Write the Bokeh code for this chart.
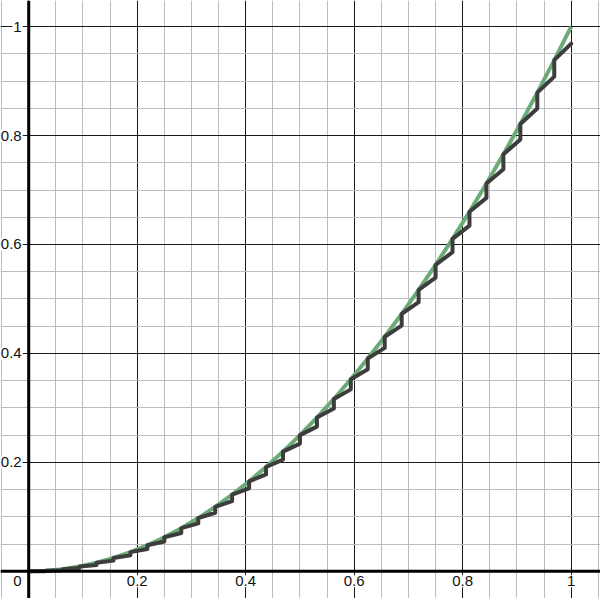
from bokeh.plotting import figure
from bokeh.models import Range1d, FixedTicker, Span
from bokeh.core.properties import value
from bokeh.embed import file_html
from bokeh.resources import INLINE

# ---- data ----
# staircase break points (x) and the curve value there
step_x = [0.0, 0.03125, 0.0625, 0.09375, 0.125, 0.15625, 0.1875, 0.21875, 0.25,
          0.28125, 0.3125, 0.34375, 0.375, 0.40625, 0.4375, 0.46875, 0.5,
          0.53125, 0.5625, 0.59375, 0.625, 0.65625, 0.6875, 0.71875, 0.75,
          0.78125, 0.8125, 0.84375, 0.875, 0.90625, 0.9375, 0.96875, 1.0]
# value of the staircase just before each jump
step_low = [0.0, 0.0, 0.00195, 0.00586, 0.01172, 0.01953, 0.0293, 0.04102, 0.05469,
            0.07031, 0.08789, 0.10742, 0.12891, 0.15234, 0.17773, 0.20508, 0.23438,
            0.26563, 0.29883, 0.33398, 0.37109, 0.41016, 0.45117, 0.49414, 0.53906,
            0.58594, 0.63477, 0.68555, 0.73828, 0.79297, 0.84961, 0.9082, 0.96875]
# value of the staircase just after each jump (on the green curve)
step_high = [0.0, 0.00098, 0.00391, 0.00879, 0.01563, 0.02441, 0.03516, 0.04785, 0.0625,
             0.0791, 0.09766, 0.11816, 0.14063, 0.16504, 0.19141, 0.21973, 0.25,
             0.28223, 0.31641, 0.35254, 0.39063, 0.43066, 0.47266, 0.5166, 0.5625,
             0.61035, 0.66016, 0.71191, 0.76563, 0.82129, 0.87891, 0.93848, 1.0]
curve_x = step_x
curve_y = step_high

x_tick_labels = ["0.2", "0.4", "0.6", "0.8", "1"]
x_tick_values = [0.2, 0.4, 0.6, 0.8, 1.0]
y_tick_labels = ["0.2", "0.4", "0.6", "0.8", "1"]
y_tick_values = [0.2, 0.4, 0.6, 0.8, 1.0]
major_grid = [0.0, 0.2, 0.4, 0.6, 0.8, 1.0]
minor_grid = [-0.05, 0.05, 0.1, 0.15, 0.25, 0.3, 0.35, 0.45, 0.5, 0.55,
              0.65, 0.7, 0.75, 0.85, 0.9, 0.95, 1.05]

# ---- staircase path assembled from the lists ----
path_x, path_y = [step_x[0]], [step_high[0]]
for k in range(1, len(step_x)):
    path_x.append(step_x[k]); path_y.append(step_low[k])
    if k < len(step_x) - 1:
        path_x.append(step_x[k]); path_y.append(step_high[k])

p = figure(width=600, height=598, output_backend="svg", toolbar_location=None,
           x_range=Range1d(-0.052, 1.054), y_range=Range1d(-0.050, 1.048),
           min_border=0, background_fill_color="white", border_fill_color="white")
p.axis.visible = False
p.outline_line_color = None

for g in (p.xgrid, p.ygrid):
    g.ticker = FixedTicker(ticks=major_grid, minor_ticks=minor_grid)
    g.grid_line_color = "black"
    g.grid_line_width = 1
    g.grid_line_alpha = 0.9
    g.minor_grid_line_color = "#bdbdbd"
    g.minor_grid_line_width = 1

p.add_layout(Span(location=0, dimension="height", line_color="black", line_width=3))
p.add_layout(Span(location=0, dimension="width", line_color="black", line_width=3))

font = value("Liberation Sans")
p.text(x=x_tick_values, y=[0] * len(x_tick_values), text=x_tick_labels,
       text_align="center", text_baseline="top", y_offset=4,
       text_font=font, text_font_size="15px", text_color="#111111",
       background_fill_color="white", padding=1)
p.text(x=[0] * len(y_tick_values), y=y_tick_values, text=y_tick_labels,
       text_align="right", text_baseline="middle", x_offset=-6,
       text_font=font, text_font_size="15px", text_color="#111111",
       background_fill_color="white", padding=1)
p.text(x=[0], y=[0], text=["0"], text_align="right", text_baseline="top",
       x_offset=-6, y_offset=4, text_font=font, text_font_size="15px",
       text_color="#111111", background_fill_color="white", padding=1)

p.line(curve_x, curve_y, line_color="#6aab77", line_width=4, line_join="round")
p.line(path_x, path_y, line_color="#3d3d3d", line_width=4, line_join="round",
       line_cap="round")

open("out.html", "w").write(file_html(p, INLINE))
